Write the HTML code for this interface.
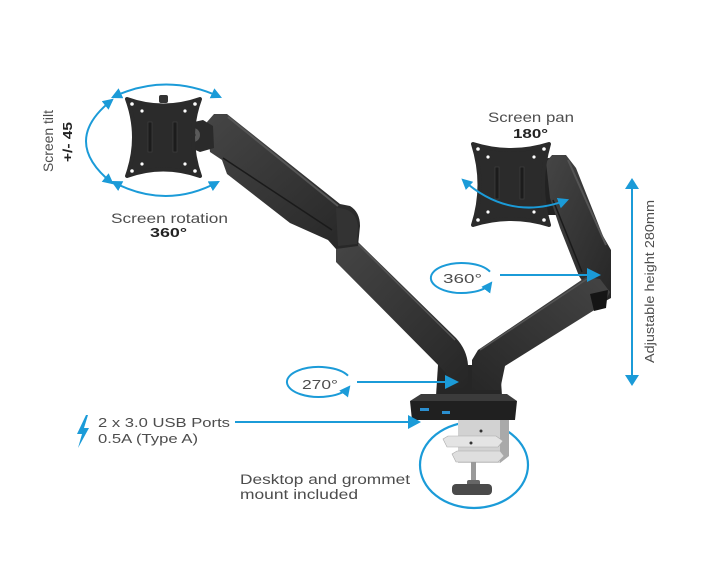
<!DOCTYPE html>
<html><head><meta charset="utf-8"><style>
html,body{margin:0;padding:0;background:#fff;}
svg{display:block;}
text{font-family:"Liberation Sans",sans-serif;}
</style></head><body>
<svg width="701" height="570" viewBox="0 0 701 570" xmlns="http://www.w3.org/2000/svg">
<defs>
<marker id="ah" viewBox="0 0 10 10" refX="8" refY="5" markerWidth="11" markerHeight="11" markerUnits="userSpaceOnUse" orient="auto-start-reverse"><path d="M0,0 L10,5 L0,10 Z" fill="#1b9bd8"/></marker>
<linearGradient id="ag" x1="0" y1="0" x2="1" y2="1"><stop offset="0" stop-color="#454545"/><stop offset="1" stop-color="#262626"/></linearGradient>
<linearGradient id="ag2" x1="1" y1="0" x2="0" y2="1"><stop offset="0" stop-color="#444"/><stop offset="1" stop-color="#272727"/></linearGradient>
</defs>
<rect width="701" height="570" fill="#fff"/>

<!-- clamp circle -->
<ellipse cx="474" cy="465" rx="54" ry="43" fill="none" stroke="#1b9bd8" stroke-width="2.2"/>

<!-- column -->
<path d="M438,365 L500,365 L502,396 L436,396 Z" fill="#262626"/>

<!-- right arm upper -->
<path d="M535,160 L556,157 L560,215 L540,215 Z" fill="#222"/>
<path d="M546,162 L552,155 L566,155 L576,168 L603,236 L611,250 L611,298 L600,304 L588,290 L579,276 L560,228 L550,198 Z" fill="url(#ag)"/>
<line x1="568" y1="160" x2="606" y2="245" stroke="#555" stroke-width="2"/>
<line x1="553" y1="200" x2="582" y2="272" stroke="#1a1a1a" stroke-width="1.5"/>
<!-- right arm lower -->
<path d="M478,350 L586,277 L600,279 L610,292 L604,304 L505,366 L500,390 L472,390 L472,360 Z" fill="url(#ag2)"/>
<line x1="480" y1="350" x2="587" y2="279" stroke="#555" stroke-width="1.5"/>
<path d="M590,294 L608,290 L606,308 L594,311 Z" fill="#151515"/>

<!-- left arm lower -->
<path d="M336,246 L358,242 L456,338 Q467,350 468,365 L468,388 L447,388 L446,373 L336,262 Z" fill="url(#ag)"/>
<line x1="358" y1="244" x2="455" y2="340" stroke="#555" stroke-width="1.5"/>
<!-- left arm upper -->
<path d="M207,122 L214,114 L227,114 L340,204 L350,206 Q360,212 360,226 L358,246 L336,249 L328,240 L290,223 L227,174 L222,160 L210,152 Z" fill="url(#ag)"/>
<line x1="228" y1="117" x2="338" y2="206" stroke="#555" stroke-width="2"/>
<line x1="223" y1="158" x2="332" y2="230" stroke="#1a1a1a" stroke-width="1.5"/>
<path d="M336,208 Q356,208 358,226 L357,244 L338,246 Z" fill="#333"/>
<!-- left tilt joint -->
<path d="M185,124 L203,120 L213,126 L214,148 L200,152 L186,146 Z" fill="#2a2a2a"/>
<circle cx="193" cy="135" r="7" fill="#5a5a5a"/>
<circle cx="193" cy="135" r="2.5" fill="#222"/>

<!-- left VESA plate -->
<rect x="159" y="95" width="9" height="8" rx="2" fill="#333"/>
<path d="M127,99 Q163,112 200,99 Q186,137 200,176 Q163,163 127,176 Q141,137 127,99 Z" fill="#2b2b2b" stroke="#2b2b2b" stroke-width="4" stroke-linejoin="round"/>
<rect x="148" y="122" width="4" height="30" fill="#1c1c1c" stroke="#444" stroke-width="0.6"/>
<rect x="173" y="122" width="4" height="30" fill="#1c1c1c" stroke="#444" stroke-width="0.6"/>
<g fill="#fff"><circle cx="132" cy="104" r="1.8"/><circle cx="195" cy="104" r="1.8"/><circle cx="132" cy="171" r="1.8"/><circle cx="195" cy="171" r="1.8"/><circle cx="142" cy="111" r="1.6"/><circle cx="185" cy="111" r="1.6"/><circle cx="142" cy="164" r="1.6"/><circle cx="185" cy="164" r="1.6"/></g>

<!-- right VESA plate -->
<rect x="516" y="148" width="9" height="8" rx="2" fill="#333"/>
<path d="M473,144 Q511,156 549,144 Q537,185 549,225 Q511,213 473,225 Q486,185 473,144 Z" fill="#2b2b2b" stroke="#2b2b2b" stroke-width="4" stroke-linejoin="round"/>
<rect x="495" y="167" width="4" height="32" fill="#1c1c1c" stroke="#444" stroke-width="0.6"/>
<rect x="520" y="167" width="4" height="32" fill="#1c1c1c" stroke="#444" stroke-width="0.6"/>
<g fill="#fff"><circle cx="478" cy="149" r="1.8"/><circle cx="544" cy="149" r="1.8"/><circle cx="478" cy="220" r="1.8"/><circle cx="544" cy="220" r="1.8"/><circle cx="488" cy="157" r="1.6"/><circle cx="534" cy="157" r="1.6"/><circle cx="488" cy="212" r="1.6"/><circle cx="534" cy="212" r="1.6"/></g>

<!-- base -->
<path d="M410,401 L421,394 L507,394 L517,401 Z" fill="#3b3b3b"/>
<path d="M410,401 L517,401 L515,420 L412,420 Z" fill="#202020"/>
<rect x="420" y="408" width="9" height="3" fill="#2b8fd0"/>
<rect x="442" y="411" width="8" height="3" fill="#2b8fd0"/>

<!-- clamp -->
<path d="M458,420 L509,420 L509,456 L500,463 L458,463 Z" fill="#d2d2d2"/>
<path d="M500,420 L509,420 L509,456 L500,463 Z" fill="#a9a9a9"/>
<path d="M443,439 L448,436 L496,436 L503,441 L498,447 L447,447 Z" fill="#e4e4e4" stroke="#aaa" stroke-width="0.6"/>
<path d="M452,454 L457,451 L500,451 L504,456 L498,462 L456,462 Z" fill="#dedede" stroke="#aaa" stroke-width="0.6"/>
<circle cx="481" cy="431" r="1.5" fill="#333"/>
<circle cx="471" cy="443" r="1.5" fill="#333"/>
<rect x="471" y="462" width="5" height="22" fill="#9a9a9a"/>
<rect x="467" y="480" width="13" height="6" rx="2" fill="#666"/>
<rect x="452" y="484" width="40" height="11" rx="4" fill="#4a4a4a"/>

<!-- annotations -->
<g fill="none" stroke="#1b9bd8" stroke-width="2">
  <path d="M113,97 Q166,72 220,97" marker-start="url(#ah)" marker-end="url(#ah)"/>
  <path d="M112,100 Q60,141 112,183" marker-start="url(#ah)" marker-end="url(#ah)"/>
  <path d="M113,182 Q166,210 218,182" marker-start="url(#ah)" marker-end="url(#ah)"/>
  <path d="M463,180 Q510,222 567,200" marker-start="url(#ah)" marker-end="url(#ah)"/>
  <path d="M490,271.7 A31,15 0 1,0 491,283.1" marker-end="url(#ah)"/>
  <path d="M348,375.7 A32,15 0 1,0 349,387.1" marker-end="url(#ah)"/>
  <line x1="500" y1="275" x2="590" y2="275"/>
  <line x1="357" y1="382" x2="447" y2="382"/>
  <line x1="235" y1="422" x2="410" y2="422"/>
  <line x1="632" y1="186" x2="632" y2="377"/>
</g>
<g fill="#1b9bd8">
  <path d="M587,268 L601,275 L587,282 Z"/>
  <path d="M445,375 L459,382 L445,389 Z"/>
  <path d="M408,415 L421,422 L408,429 Z"/>
  <path d="M625,189 L632,178 L639,189 Z"/>
  <path d="M625,375 L632,386 L639,375 Z"/>
  <path d="M86,415 L77,434 L82,434 L78,448 L89,428 L84,428 L88,415 Z"/>
</g>

<!-- text -->
<g fill="#4d4d4d">
<text x="111" y="223" font-size="14" textLength="117" lengthAdjust="spacingAndGlyphs">Screen rotation</text>
<text x="488" y="122" font-size="14" textLength="86" lengthAdjust="spacingAndGlyphs">Screen pan</text>
<text transform="translate(53,172) rotate(-90)" font-size="14" textLength="62" lengthAdjust="spacingAndGlyphs">Screen tilt</text>
<text transform="translate(654,363) rotate(-90)" font-size="13" textLength="163" lengthAdjust="spacingAndGlyphs">Adjustable height 280mm</text>
<text x="443" y="283" font-size="13" textLength="39" lengthAdjust="spacingAndGlyphs">360°</text>
<text x="302" y="389" font-size="13" textLength="36" lengthAdjust="spacingAndGlyphs">270°</text>
<text x="98" y="427" font-size="13" textLength="132" lengthAdjust="spacingAndGlyphs">2 x 3.0 USB Ports</text>
<text x="98" y="443" font-size="13" textLength="100" lengthAdjust="spacingAndGlyphs">0.5A (Type A)</text>
<text x="240" y="484" font-size="13.5" textLength="170" lengthAdjust="spacingAndGlyphs">Desktop and grommet</text>
<text x="240" y="499" font-size="13.5" textLength="118" lengthAdjust="spacingAndGlyphs">mount included</text>
</g>
<g fill="#222" font-weight="bold">
<text x="150" y="237" font-size="13" textLength="37" lengthAdjust="spacingAndGlyphs">360°</text>
<text x="513" y="138" font-size="13" textLength="35" lengthAdjust="spacingAndGlyphs">180°</text>
<text transform="translate(72,162) rotate(-90)" font-size="13" textLength="40" lengthAdjust="spacingAndGlyphs">+/- 45</text>
</g>
</svg>
</body></html>
